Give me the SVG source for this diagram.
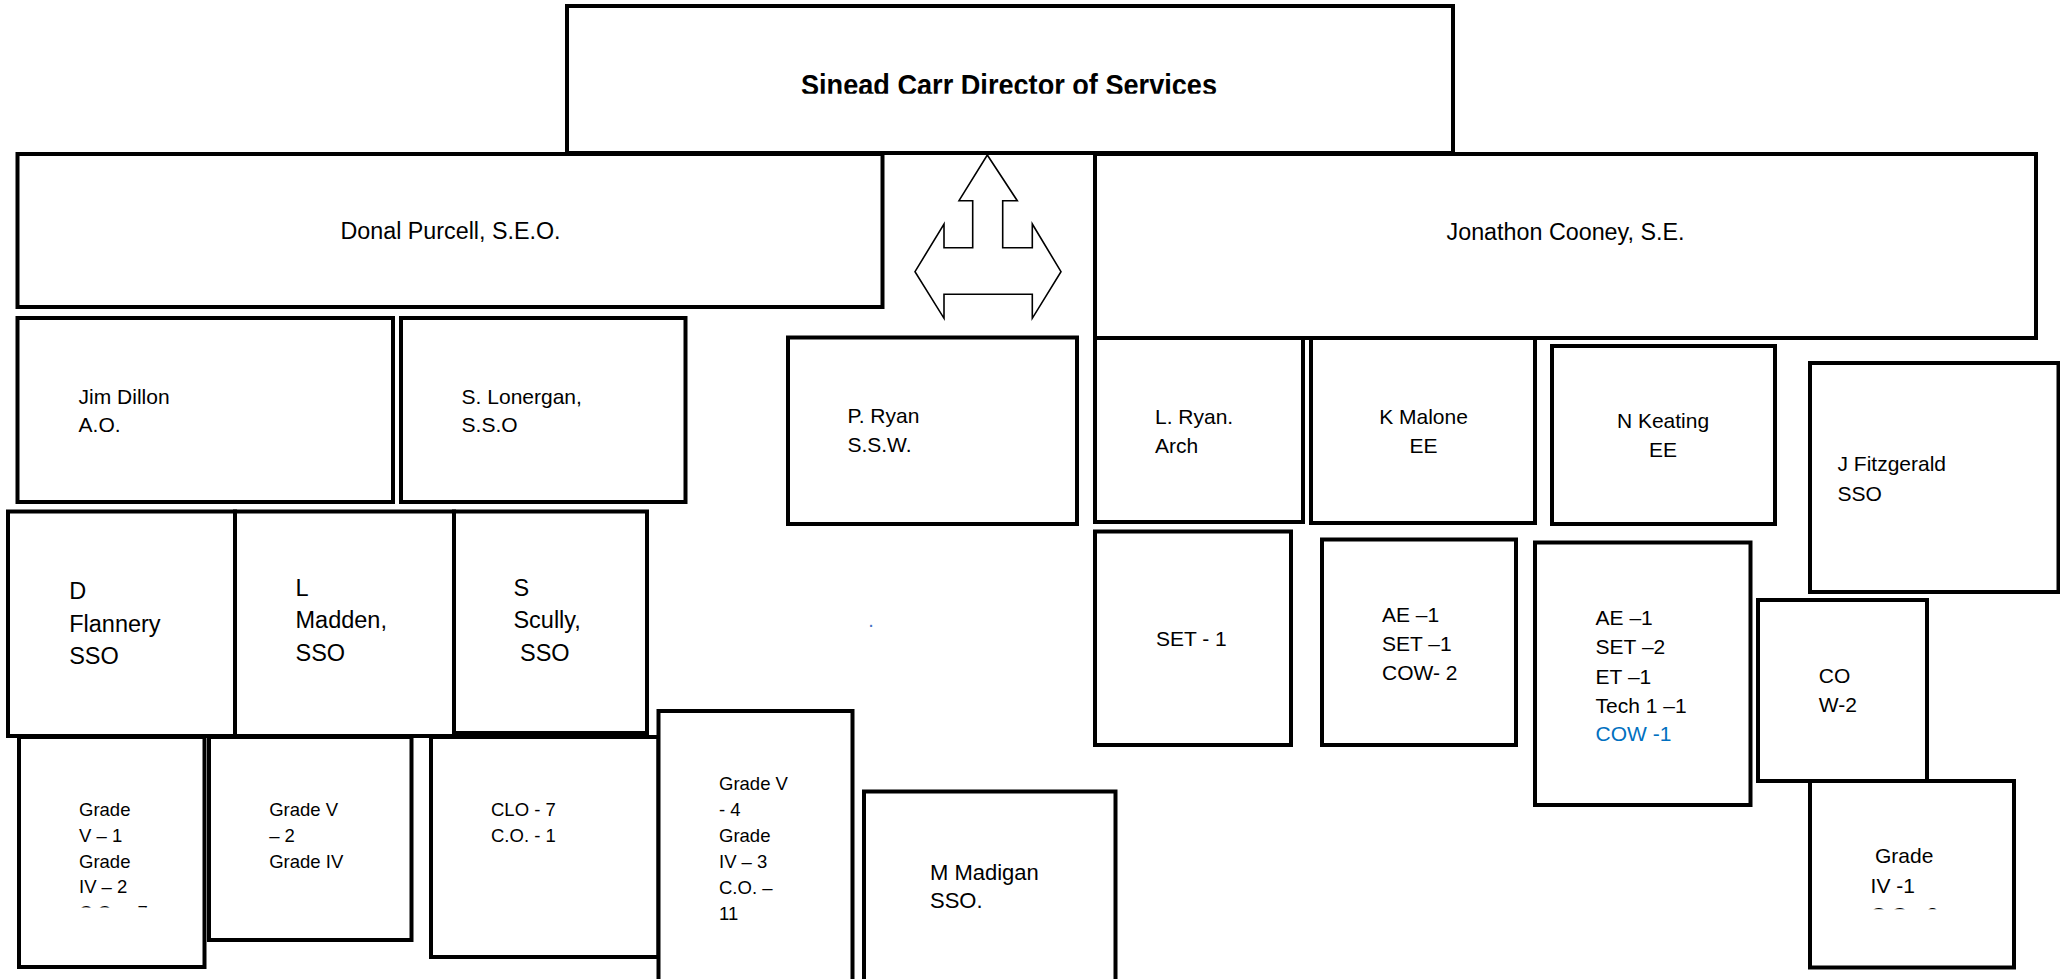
<svg xmlns="http://www.w3.org/2000/svg" width="2060" height="979" viewBox="0 0 2060 979">
  <style>
    .box { fill: #ffffff; stroke: #000000; stroke-width: 4; }
    .t { font-family: "Liberation Sans", Arial, sans-serif; fill: #000000; }
    .title { font-size: 29px; font-weight: bold; text-anchor: middle; }
    .head { font-size: 23.3px; text-anchor: middle; }
    .m { font-size: 21px; }
    .mc { font-size: 21px; text-anchor: middle; }
    .l { font-size: 23.5px; }
    .s { font-size: 18.5px; }
    .blue { fill: #0070C0; }
    .dot { fill: #4472C4; }
    .arrow { fill: #ffffff; stroke: #000000; stroke-width: 1.6; stroke-linejoin: miter; }
  </style>
  <defs>
    <clipPath id="clip-title"><rect x="567" y="6" width="886" height="87.8"/></clipPath>
    <clipPath id="clip-grade1"><rect x="19" y="737" width="185" height="170.6"/></clipPath>
    <clipPath id="clip-grade4"><rect x="1810" y="781" width="204" height="128.2"/></clipPath>
  </defs>

  <rect width="2060" height="979" fill="#ffffff"/>

  <!-- top level -->
  <g id="director">
    <rect class="box" x="567" y="6" width="886" height="147"/>
    <text class="t title" x="1009" y="94.5" textLength="416" lengthAdjust="spacingAndGlyphs" clip-path="url(#clip-title)">Sinead Carr Director of Services</text>
  </g>

  <!-- section heads -->
  <g id="purcell">
    <rect class="box" x="17.5" y="154" width="865" height="153"/>
    <text class="t head" x="450.5" y="239">Donal Purcell, S.E.O.</text>
  </g>
  <g id="cooney">
    <rect class="box" x="1095" y="154" width="941" height="184"/>
    <text class="t head" x="1565.5" y="239.5">Jonathon Cooney, S.E.</text>
  </g>

  <!-- left branch -->
  <g id="dillon">
    <rect class="box" x="17.5" y="318" width="375.5" height="184"/>
    <text class="t m" x="78.6" y="403.5">Jim Dillon<tspan x="78.6" dy="28.5">A.O.</tspan></text>
  </g>
  <g id="lonergan">
    <rect class="box" x="401" y="318" width="284.5" height="184"/>
    <text class="t m" x="461.6" y="403.5">S. Lonergan,<tspan x="461.6" dy="28.5">S.S.O</tspan></text>
  </g>
  <g id="p-ryan">
    <rect class="box" x="788" y="337.5" width="289" height="186.5"/>
    <text class="t m" x="847.4" y="423.3">P. Ryan<tspan x="847.4" dy="28.4">S.S.W.</tspan></text>
  </g>

  <g id="flannery">
    <rect class="box" x="8" y="511.5" width="227" height="224.5"/>
    <text class="t l" x="69.2" y="599.3">D<tspan x="69.2" dy="32.4">Flannery</tspan><tspan x="69.2" dy="32.4">SSO</tspan></text>
  </g>
  <g id="madden">
    <rect class="box" x="235" y="511.5" width="219" height="224.5"/>
    <text class="t l" x="295.5" y="596">L<tspan x="295.5" dy="32.3">Madden,</tspan><tspan x="295.5" dy="32.3">SSO</tspan></text>
  </g>
  <g id="scully">
    <rect class="box" x="454" y="511.5" width="193" height="221.5"/>
    <text class="t l" x="513.4" y="596">S<tspan x="513.4" dy="32.3">Scully,</tspan><tspan x="520" dy="32.3">SSO</tspan></text>
  </g>

  <g id="grades-flannery">
    <rect class="box" x="19" y="737" width="185.5" height="230"/>
    <text class="t s" x="79" y="816" clip-path="url(#clip-grade1)">Grade<tspan x="79" dy="25.8">V – 1</tspan><tspan x="79" dy="25.8">Grade</tspan><tspan x="79" dy="25.8">IV – 2</tspan><tspan x="79" dy="25.8">C.O. – 7</tspan></text>
  </g>
  <g id="grades-madden">
    <rect class="box" x="209" y="737" width="202.5" height="203"/>
    <text class="t s" x="269.2" y="816">Grade V<tspan x="269.2" dy="25.8">– 2</tspan><tspan x="269.2" dy="25.8">Grade IV</tspan></text>
  </g>
  <g id="grades-scully">
    <rect class="box" x="431" y="737" width="227.5" height="220"/>
    <text class="t s" x="491" y="816">CLO - 7<tspan x="491" dy="25.8">C.O. - 1</tspan></text>
  </g>
  <g id="grades-lonergan">
    <rect class="box" x="658.5" y="711" width="194" height="280"/>
    <text class="t s" x="719" y="790">Grade V<tspan x="719" dy="26">- 4</tspan><tspan x="719" dy="26">Grade</tspan><tspan x="719" dy="26">IV – 3</tspan><tspan x="719" dy="26">C.O. –</tspan><tspan x="719" dy="26">11</tspan></text>
  </g>
  <g id="madigan">
    <rect class="box" x="864" y="791.5" width="251.5" height="200"/>
    <text class="t" style="font-size:22px" x="930" y="880">M Madigan<tspan x="930" dy="28.3">SSO.</tspan></text>
  </g>

  <text class="t dot" style="font-size:20px" x="868.2" y="626.5">.</text>

  <!-- right branch -->
  <g id="l-ryan">
    <rect class="box" x="1095" y="338" width="208" height="184"/>
    <text class="t m" x="1155" y="424">L. Ryan.<tspan x="1155" dy="28.7">Arch</tspan></text>
  </g>
  <g id="malone">
    <rect class="box" x="1311" y="338" width="224" height="185"/>
    <text class="t mc" x="1423.5" y="424">K Malone<tspan x="1423.5" dy="28.7">EE</tspan></text>
  </g>
  <g id="keating">
    <rect class="box" x="1552" y="346" width="223" height="178"/>
    <text class="t mc" x="1663" y="428.3">N Keating<tspan x="1663" dy="29">EE</tspan></text>
  </g>
  <g id="fitzgerald">
    <rect class="box" x="1810" y="363" width="248.5" height="229"/>
    <text class="t m" x="1837.5" y="470.7">J Fitzgerald<tspan x="1837.5" dy="30">SSO</tspan></text>
  </g>

  <g id="staff-ryan">
    <rect class="box" x="1095" y="531.5" width="196" height="213.5"/>
    <text class="t m" x="1156" y="646">SET - 1</text>
  </g>
  <g id="staff-malone">
    <rect class="box" x="1322" y="539.5" width="194" height="205.5"/>
    <text class="t m" x="1382" y="621.7">AE –1<tspan x="1382" dy="29.2">SET –1</tspan><tspan x="1382" dy="29.2">COW- 2</tspan></text>
  </g>
  <g id="staff-keating">
    <rect class="box" x="1535" y="542.5" width="215.5" height="262.5"/>
    <text class="t m" x="1595.6" y="625">AE –1<tspan x="1595.6" dy="29.3">SET –2</tspan><tspan x="1595.6" dy="29.3">ET –1</tspan><tspan x="1595.6" dy="29.3">Tech 1 –1</tspan><tspan class="blue" x="1595.6" dy="28">COW -1</tspan></text>
  </g>
  <g id="staff-cow">
    <rect class="box" x="1758" y="600" width="169" height="181"/>
    <text class="t m" x="1818.8" y="683.3">CO<tspan x="1818.8" dy="29">W-2</tspan></text>
  </g>
  <g id="staff-fitzgerald">
    <rect class="box" x="1810" y="781" width="204" height="186.5"/>
    <text class="t m" clip-path="url(#clip-grade4)"><tspan x="1875" y="862.7">Grade</tspan><tspan x="1870.6" y="892.7">IV -1</tspan><tspan x="1870.6" y="921.5">C.O. -2</tspan></text>
  </g>

  <!-- reporting arrow between the two sections -->
  <g id="connectors">
    <path class="arrow" d="M987.3,155 L1017.3,200.7 L1002.7,200.7 L1002.7,247.7 L1032.3,247.7 L1032.3,224 L1061,271.7 L1032.3,318.3 L1032.3,294.3 L944,294.3 L944,318.3 L915,271.7 L944,224 L944,247.7 L972.7,247.7 L972.7,200.7 L959,200.7 Z"/>
  </g>
</svg>
